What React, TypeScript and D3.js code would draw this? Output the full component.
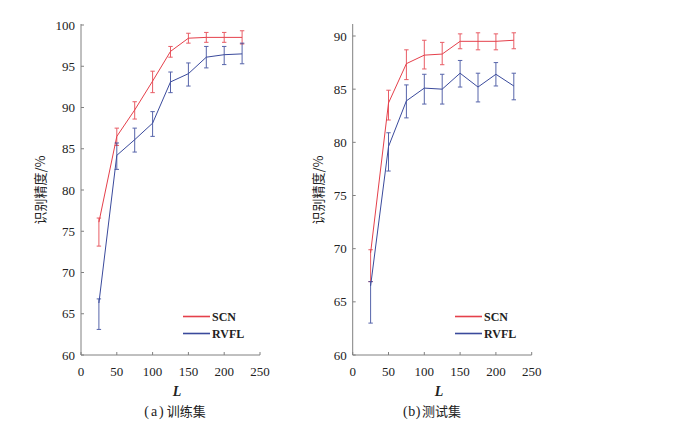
import React from "react";
import * as d3 from "d3";

const Ls = [25, 50, 75, 100, 125, 150, 175, 200, 225];

// (a) 训练集
const trainSCN = [76.1, 86.5, 89.7, 93.2, 96.8, 98.4, 98.5, 98.5, 98.5];
const trainSCNLo = [73.2, 85.4, 88.6, 91.8, 96.1, 97.8, 97.9, 97.9, 97.7];
const trainSCNHi = [76.6, 87.5, 90.7, 94.4, 97.4, 99.0, 99.1, 99.1, 99.3];
const trainRVFL = [66.3, 84.2, 86.1, 88.1, 93.1, 94.1, 96.1, 96.4, 96.5];
const trainRVFLLo = [63.1, 82.5, 84.6, 86.5, 91.8, 92.6, 94.8, 95.2, 95.3];
const trainRVFLHi = [66.8, 85.7, 87.5, 89.5, 94.3, 95.4, 97.4, 97.4, 97.8];

// (b) 测试集
const testSCN = [69.6, 83.7, 87.4, 88.2, 88.3, 89.5, 89.5, 89.5, 89.6];
const testSCNLo = [66.9, 82.1, 85.9, 86.9, 87.3, 88.8, 88.7, 88.7, 88.8];
const testSCNHi = [69.9, 84.9, 88.7, 89.6, 89.4, 90.2, 90.3, 90.2, 90.3];
const testRVFL = [66.5, 79.6, 83.9, 85.1, 85.0, 86.5, 85.2, 86.4, 85.3];
const testRVFLLo = [63.0, 77.3, 82.3, 83.6, 83.6, 85.2, 83.8, 85.3, 84.0];
const testRVFLHi = [66.9, 80.9, 85.4, 86.4, 86.4, 87.7, 86.5, 87.5, 86.5];

const xTicks = [0, 50, 100, 150, 200, 250];
const trainYTicks = [60, 65, 70, 75, 80, 85, 90, 95, 100];
const testYTicks = [60, 65, 70, 75, 80, 85, 90];

const seriesNames = ["SCN", "RVFL"];
const RED = "#e5404b";
const BLUE = "#3a4a9c";
const AXIS = "#808080";
const SERIF = "'Liberation Serif', 'DejaVu Serif', serif";
const CJK = "'Noto Sans CJK SC', sans-serif";

type S = { mean: number[]; lo: number[]; hi: number[]; color: string };

function Panel(props: {
  x0: number;
  x1: number;
  yTop: number;
  yDomainTop: number;
  yPxTop: number;
  yTicks: number[];
  series: S[];
  tag: string;
  tagSpacing: number;
  caption: string;
  captionX: number;
  lX: number;
  ylabelX: number;
  legendX: number;
}) {
  const { x0, x1, yTop, yDomainTop, yPxTop, yTicks, series, tag, tagSpacing, caption, captionX, lX, ylabelX, legendX } = props;
  const yBottom = 355;
  const x = d3.scaleLinear().domain([0, 250]).range([x0, x1]);
  const y = d3.scaleLinear().domain([60, yDomainTop]).range([yBottom, yPxTop]);
  const line = d3
    .line<number>()
    .x((_, i) => x(Ls[i]))
    .y((d) => y(d));
  const cap = 2.2;
  return (
    <g>
      {/* axes */}
      <line x1={x0} x2={x0} y1={yBottom} y2={yTop} stroke={AXIS} strokeWidth={1} />
      <line x1={x0} x2={x1} y1={yBottom} y2={yBottom} stroke={AXIS} strokeWidth={1} />
      {yTicks.map((t) => (
        <g key={"y" + t}>
          <line x1={x0} x2={x0 + 3} y1={y(t)} y2={y(t)} stroke={AXIS} />
          <text x={x0 - 6} y={y(t) + 4.5} textAnchor="end" fontFamily={SERIF} fontSize={13} fill="#222">
            {t}
          </text>
        </g>
      ))}
      {xTicks.map((t) => (
        <g key={"x" + t}>
          <line x1={x(t)} x2={x(t)} y1={yBottom} y2={yBottom - 3} stroke={AXIS} />
          <text x={x(t)} y={yBottom + 21} textAnchor="middle" fontFamily={SERIF} fontSize={13} fill="#222">
            {t}
          </text>
        </g>
      ))}
      {/* series */}
      {series.map((s, k) => (
        <g key={"s" + k}>
          <path d={line(s.mean) || ""} fill="none" stroke={s.color} strokeWidth={1} />
          {Ls.map((l, i) => (
            <g key={i} stroke={s.color} strokeWidth={1} opacity={0.85}>
              <line x1={x(l)} x2={x(l)} y1={y(s.lo[i])} y2={y(s.hi[i])} />
              <line x1={x(l) - cap} x2={x(l) + cap} y1={y(s.lo[i])} y2={y(s.lo[i])} />
              <line x1={x(l) - cap} x2={x(l) + cap} y1={y(s.hi[i])} y2={y(s.hi[i])} />
            </g>
          ))}
        </g>
      ))}
      {/* legend */}
      {series.map((s, k) => (
        <g key={"l" + k}>
          <line x1={legendX} x2={legendX + 27} y1={316.5 + k * 17} y2={316.5 + k * 17} stroke={s.color} strokeWidth={1.6} />
          <text x={legendX + 29} y={321 + k * 17} fontFamily={SERIF} fontSize={12} fontWeight="bold" fill="#222">
            {seriesNames[k]}
          </text>
        </g>
      ))}
      {/* labels */}
      <text x={lX} y={395.5} textAnchor="middle" fontFamily={SERIF} fontStyle="italic" fontWeight="bold" fontSize={14} fill="#222">
        L
      </text>
      <text x={captionX} y={415.5} textAnchor="middle" fontSize={13} fill="#222">
        <tspan fontFamily={SERIF} fontSize={14} letterSpacing={tagSpacing}>{tag}</tspan>
        <tspan fontFamily={CJK} dx={1}>{caption}</tspan>
      </text>
      <text
        transform={`translate(${ylabelX},190) rotate(-90)`}
        textAnchor="middle"
        fontFamily={CJK}
        fontSize={13}
        fill="#222"
      >
        识别精度/%
      </text>
    </g>
  );
}

export default function App() {
  return (
    <svg width={695} height={427} style={{ position: "absolute", left: 0, top: 0, background: "#fff" }}>
      <rect width={695} height={427} fill="#fff" />
      <Panel
        x0={81}
        x1={260}
        yTop={24}
        yDomainTop={100}
        yPxTop={25}
        yTicks={trainYTicks}
        tag="(a)"
        tagSpacing={2}
        caption="训练集"
        captionX={175}
        lX={177}
        ylabelX={45}
        legendX={183}
        series={[
          { mean: trainSCN, lo: trainSCNLo, hi: trainSCNHi, color: RED },
          { mean: trainRVFL, lo: trainRVFLLo, hi: trainRVFLHi, color: BLUE },
        ]}
      />
      <Panel
        x0={352.7}
        x1={531.7}
        yTop={24}
        yDomainTop={90}
        yPxTop={36}
        yTicks={testYTicks}
        tag="(b)"
        tagSpacing={0.5}
        caption="测试集"
        captionX={432}
        lX={439}
        ylabelX={323}
        legendX={455}
        series={[
          { mean: testSCN, lo: testSCNLo, hi: testSCNHi, color: RED },
          { mean: testRVFL, lo: testRVFLLo, hi: testRVFLHi, color: BLUE },
        ]}
      />
    </svg>
  );
}
